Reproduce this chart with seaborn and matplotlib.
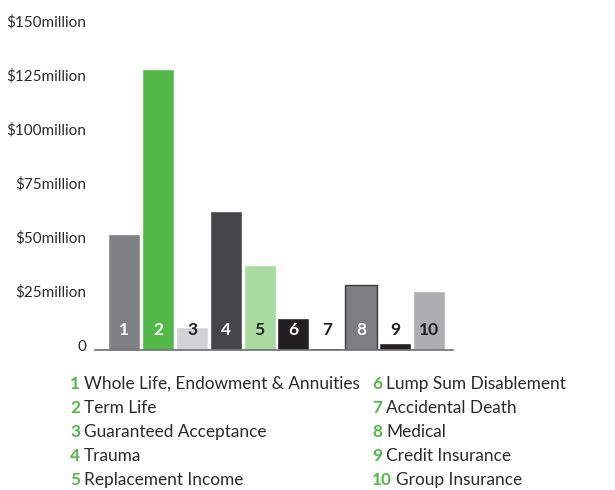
import matplotlib
matplotlib.use('Agg')
import matplotlib.pyplot as plt
import matplotlib.transforms as mtransforms
import seaborn as sns

# Data
categories = ['1', '2', '3', '4', '5', '6', '7', '8', '9', '10']
values = [53.7, 130.0, 10.6, 64.4, 39.4, 14.8, 0.9, 30.0, 3.2, 27.3]  # $ million
bar_colors = ['#808184', '#52b848', '#d1d2d4', '#454648', '#a8dba0',
              '#231f20', '#231f20', '#7d7e81', '#231f20', '#adaeb1']
num_colors = ['white', 'white', '#231f20', 'white', '#231f20',
              'white', '#231f20', 'white', '#231f20', '#231f20']
descriptions = ['Whole Life, Endowment & Annuities', 'Term Life',
                'Guaranteed Acceptance', 'Trauma', 'Replacement Income',
                'Lump Sum Disablement', 'Accidental Death', 'Medical',
                'Credit Insurance', 'Group Insurance']
yticks = [0, 25, 50, 75, 100, 125, 150]
ytick_labels = ['0', '$25million', '$50million', '$75million',
                '$100million', '$125million', '$150million']

sns.set_style('white')
plt.rcParams['font.family'] = ['Lato', 'DejaVu Sans']

GREEN = '#52b848'
TEXT = '#2b2a2b'

fig = plt.figure(figsize=(6.15, 4.9), dpi=100)
ax = fig.add_axes([0.1545, 0.2857, 0.582, 0.670])

sns.barplot(x=categories, y=values, hue=categories, palette=bar_colors,
            legend=False, width=0.95, saturation=1, ax=ax)

# medical bar has a dark outline
ax.patches[7].set_edgecolor('#3a3a3c')
ax.patches[7].set_linewidth(1.0)

# number labels inside bars
for i, c in enumerate(categories):
    ax.text(i, 9.3, c, ha='center', va='center', fontsize=12.5,
            fontweight='bold', color=num_colors[i])

ax.set_xlim(-0.87, 9.72)
ax.set_ylim(0, 152)
ax.set_yticks(yticks)
ax.set_yticklabels(ytick_labels, fontsize=11, color=TEXT)
ax.tick_params(axis='y', length=0, pad=6.5)
ax.tick_params(axis='x', length=0, labelbottom=False)
ax.set_xlabel('')
ax.set_ylabel('')

# labels sit a little above their value
offset = mtransforms.ScaledTranslation(0, 5 / 100, fig.dpi_scale_trans)
for lbl in ax.get_yticklabels():
    lbl.set_transform(lbl.get_transform() + offset)

for s in ['top', 'right', 'left']:
    ax.spines[s].set_visible(False)
ax.spines['bottom'].set_color('#6d6e71')
ax.spines['bottom'].set_linewidth(1.2)

# legend list below the chart
col_x = [70 / 615, 372 / 615]
row_y = [384, 408, 432, 456, 480]
for i, (c, d) in enumerate(zip(categories, descriptions)):
    col, row = divmod(i, 5)
    y = 1 - row_y[row] / 490
    num = fig.text(col_x[col], y, c, fontsize=12.4, fontweight='bold',
                   color=GREEN, va='center', ha='left')
    ax.annotate(d, xy=(1, 0.5), xycoords=num, xytext=(3, 0),
                textcoords='offset points', va='center', ha='left',
                fontsize=12.4, color=TEXT, annotation_clip=False)

fig.savefig('out.png', dpi=100)
